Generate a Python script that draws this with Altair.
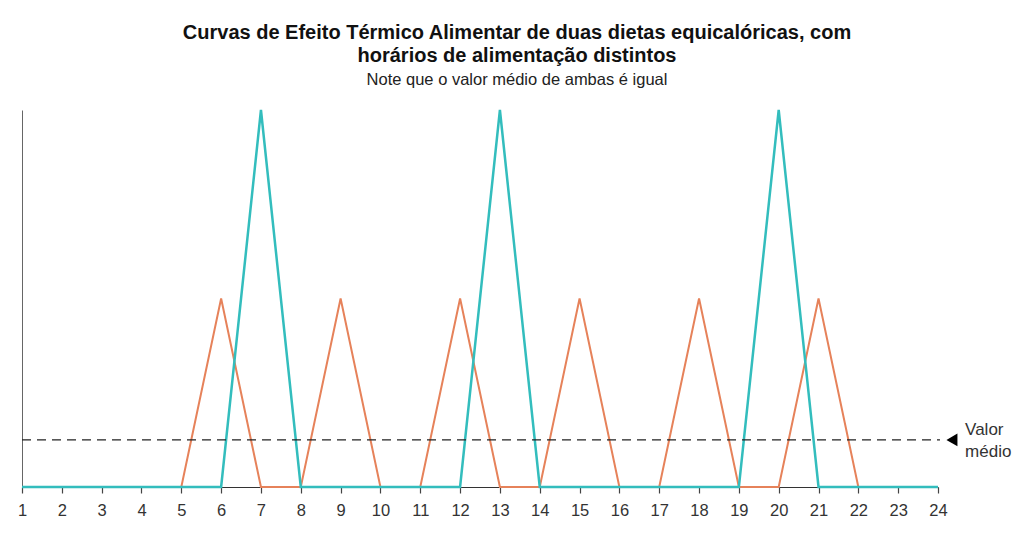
import altair as alt
import pandas as pd

hours = list(range(1, 25))
dieta_a = [0, 0, 0, 0, 0, 0, 2, 0, 0, 0, 0, 0, 2, 0, 0, 0, 0, 0, 0, 2, 0, 0, 0, 0]
dieta_b = [0, 0, 0, 0, 0, 1, 0, 0, 1, 0, 0, 1, 0, 0, 1, 0, 0, 1, 0, 0, 1, 0, 0, 0]
mean_value = [0.25]
mean_start = [1]
mean_end = [24.05]
marker_x = [24.35]
label_x = [24.68]
label_text = ["Valor\nmédio"]

title_lines = ["Curvas de Efeito Térmico Alimentar  de duas dietas equicalóricas, com",
               "horários de alimentação distintos"]
subtitle_text = "Note que o valor médio de ambas é igual"

FONT = "Liberation Sans"
TEAL = "#33bdbd"
ORANGE = "#e6825a"

df = pd.DataFrame({"hora": hours, "A": dieta_a, "B": dieta_b})
mean_df = pd.DataFrame({"x": mean_start, "x2": mean_end, "y": mean_value,
                        "mx": marker_x, "lx": label_x, "t": label_text})

xscale = alt.Scale(domain=[1, 24], nice=False, zero=False)
yscale = alt.Scale(domain=[0, 2], nice=False)

xaxis = alt.Axis(values=hours, format="d", title=None, grid=False, tickSize=6, tickWidth=1.2,
                 labelFontSize=16.5, labelPadding=9, labelFont=FONT, labelOverlap=False,
                 domainColor="#333333", tickColor="#444444", labelColor="#333333",
                 labelFlush=False)
yaxis = alt.Axis(title=None, labels=False, ticks=False, grid=False, domainColor="#666666")

base = alt.Chart(df)

line_b = base.mark_line(color=ORANGE, strokeWidth=2).encode(
    x=alt.X("hora:Q", scale=xscale, axis=xaxis),
    y=alt.Y("B:Q", scale=yscale, axis=yaxis),
)
line_a = base.mark_line(color=TEAL, strokeWidth=2.5).encode(
    x=alt.X("hora:Q", scale=xscale, axis=xaxis),
    y=alt.Y("A:Q", scale=yscale, axis=yaxis),
)

mbase = alt.Chart(mean_df)
rule = mbase.mark_rule(color="#222222", strokeWidth=1.3, strokeDash=[9, 6], clip=False).encode(
    x=alt.X("x:Q", scale=xscale, axis=xaxis), x2="x2:Q",
    y=alt.Y("y:Q", scale=yscale, axis=yaxis)
)
marker = mbase.mark_point(shape="triangle-left", filled=True, size=160, color="#000000",
                          opacity=1, clip=False).encode(
    x=alt.X("mx:Q", scale=xscale, axis=xaxis), y=alt.Y("y:Q", scale=yscale, axis=yaxis)
)
label = mbase.mark_text(align="left", baseline="middle", fontSize=17, font=FONT,
                        color="#333333", lineBreak="\n", lineHeight=22, dy=-10,
                        clip=False).encode(
    x=alt.X("lx:Q", scale=xscale, axis=xaxis), y=alt.Y("y:Q", scale=yscale, axis=yaxis),
    text="t:N"
)

chart = alt.layer(line_b, line_a, rule, marker, label).properties(
    width=916, height=377,
    padding={"left": 14, "top": 102, "right": 78, "bottom": 51},
    autosize=alt.AutoSizeParams(type="none"),
    background="white",
    title=alt.Title(text=title_lines, subtitle=subtitle_text, font=FONT, fontSize=20,
                    fontWeight="bold", color="#111111", lineHeight=23,
                    subtitleFont=FONT, subtitleFontSize=16.5, subtitleColor="#222222",
                    subtitlePadding=6, anchor="middle", dx=37, offset=17),
).configure_view(strokeWidth=0, stroke=None)

chart.save("out.html", embed_options={"renderer": "svg", "actions": False})
